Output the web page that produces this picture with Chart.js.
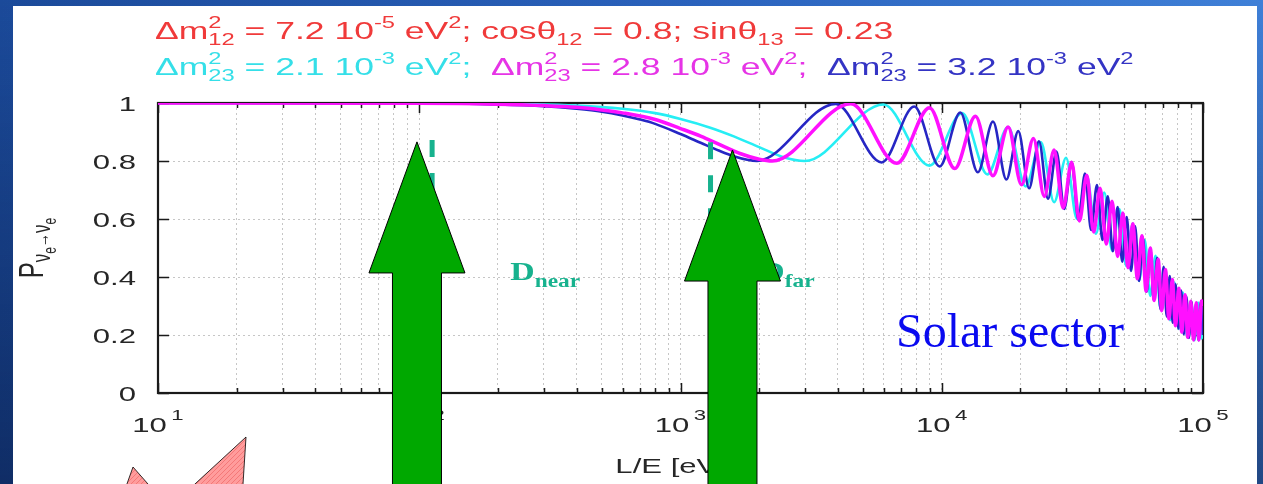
<!DOCTYPE html>
<html><head><meta charset="utf-8">
<script src="https://cdn.jsdelivr.net/npm/chart.js@4.4.1/dist/chart.umd.min.js"></script>
<style>
html,body{margin:0;padding:0;width:1263px;height:484px;overflow:hidden;}
body{background:linear-gradient(to bottom, rgba(0,0,0,0) 0%, rgba(4,16,50,0.5) 100%), linear-gradient(to right, #1b4a9a 0%, #2a62bd 55%, #3f80d8 100%);}
#panel{position:absolute;left:13px;top:6px;width:1244px;height:480px;background:#fff;}
#wrap{position:absolute;left:0;top:0;width:1263px;height:484px;}
</style></head><body>
<div id="panel"></div>
<div id="wrap"><canvas id="c"></canvas></div>
<script>
// ---- data (L/E in eV^-2, survival probability) ----
const blueX = [10,100,200,300,400,500,600,700,800,1000,1200,1400,1600,1800,1963,
  3927,5890,7854,9817,11781,13744,15708,17671,19635,21598,23562,25525,27489,29452,31416,33379,35343,37306,39270,41233,
  43197,45160,47124,49087,51051,53014,54978,56941,58905,60868,62832,64795,66759,68722,70686,72649,74613,76576,78540,80503,
  82467,84430,86394,88357,90321,92284,94248,96211,98175,100000];
const blueP = [1,0.999,0.995,0.989,0.980,0.970,0.957,0.943,0.928,0.893,0.862,0.836,0.816,0.804,0.800,
  0.997,0.795,0.988,0.781,0.967,0.761,0.936,0.736,0.903,0.706,0.868,0.670,0.833,0.635,0.796,0.596,0.757,0.562,0.717,0.528,
  0.678,0.489,0.641,0.453,0.607,0.421,0.575,0.386,0.536,0.349,0.500,0.321,0.466,0.290,0.435,0.264,0.403,0.242,0.375,0.223,
  0.353,0.203,0.333,0.190,0.315,0.183,0.311,0.182,0.316,0.200];

const magX = [10,100,200,300,400,500,600,800,1000,1200,1400,1700,2000,2244,
  4488,6732,8976,11220,13464,15708,17952,20196,22440,24684,26928,29172,31416,33660,35904,38148,40392,42636,44880,47124,
  49368,51612,53856,56100,58344,60588,62832,65076,67320,69564,71808,74052,76296,78540,80784,83028,85272,87516,89760,92004,
  94248,96492,98736,100000];
const magP = [1,0.999,0.996,0.991,0.985,0.976,0.966,0.943,0.912,0.885,0.858,0.825,0.806,0.800,
  0.997,0.792,0.984,0.774,0.954,0.749,0.917,0.718,0.878,0.678,0.838,0.638,0.796,0.593,0.751,0.555,0.706,0.514,0.661,0.471,
  0.621,0.432,0.584,0.394,0.542,0.351,0.500,0.319,0.461,0.284,0.426,0.256,0.391,0.232,0.361,0.210,0.339,0.192,0.316,0.183,
  0.311,0.183,0.318,0.300];

const cyanX = [10,100,200,400,600,800,1000,1300,1600,2000,2500,2992,
  5984,8976,11968,14960,17952,20944,23936,26928,29920,32912,35904,38896,41888,44880,47872,50864,53856,56848,59840,62832,
  65824,68816,71808,74800,77792,80784,83776,86768,89760,92752,95744,98736,100000];
const cyanP = [1,1,0.998,0.991,0.980,0.965,0.945,0.915,0.885,0.848,0.812,0.800,
  0.995,0.784,0.965,0.754,0.917,0.712,0.865,0.658,0.811,0.601,0.751,0.549,0.691,0.491,0.634,0.438,0.584,0.387,0.527,0.335,
  0.473,0.290,0.426,0.251,0.381,0.221,0.346,0.195,0.316,0.182,0.312,0.188,0.210];

// ---- axes ----
const xGridValues = [10,20,30,40,50,60,70,80,90,100,200,300,400,500,600,700,800,900,1000,2000,3000,4000,5000,6000,7000,8000,9000,
  10000,20000,30000,40000,50000,60000,70000,80000,90000,100000];
const xMajorValues = [10,100,1000,10000,100000];
const xMajorBase = ['10','10','10','10','10'];
const xMajorExp = ['1','2','3','4','5'];
const yTickValues = [0,0.2,0.4,0.6,0.8,1];
const yTickLabels = ['0','0.2','0.4','0.6','0.8','1'];

// ---- annotations (anchored on the scales) ----
const dashLines = [{x:112, top:0.872}, {x:1303, top:0.865}];
const dLabels = [{x:223, p:0.3655, sub:'near'}, {x:2020, p:0.3655, sub:'far'}];
const arrows = [{x:98, tip:0.866, base:0.414}, {x:1581, tip:0.838, base:0.386}];

const SX = 1.48;
const SANS = '"Liberation Sans", Arial, Helvetica, sans-serif';
const SERIF = '"Liberation Serif", "Times New Roman", serif';
const RED = '#f03a3a', CYAN = '#35dfe8', MAG = '#e634e6', BLUE = '#3434c4';
const TEAL = '#17b28e';
const INK = '#262626';

function fontOf(r){ return (r.b ? 'bold ' : '') + r.s + 'px ' + (r.f || SANS); }
function runsWidth(ctx, runs){
  let w = 0;
  for (const r of runs){
    ctx.font = fontOf(r);
    if (r.sup !== undefined || r.sub !== undefined){
      w += Math.max(r.sup ? ctx.measureText(r.sup).width : 0, r.sub ? ctx.measureText(r.sub).width : 0);
    } else w += ctx.measureText(r.t).width;
  }
  return w;
}
function drawRuns(ctx, runs, x0){
  let x = x0;
  for (const r of runs){
    ctx.font = fontOf(r);
    ctx.fillStyle = r.c;
    if (r.sup !== undefined || r.sub !== undefined){
      let w = 0;
      if (r.sup){ ctx.fillText(r.sup, x, r.supDy !== undefined ? r.supDy : -9); w = Math.max(w, ctx.measureText(r.sup).width); }
      if (r.sub){ ctx.fillText(r.sub, x, r.subDy !== undefined ? r.subDy : 5); w = Math.max(w, ctx.measureText(r.sub).width); }
      x += w;
    } else {
      ctx.fillText(r.t, x, r.dy || 0);
      x += ctx.measureText(r.t).width;
    }
  }
  return x;
}
function dm(c, sub, val, exp){
  return [{t:'\u0394m', s:24, c}, {sup:'2', sub:sub, s:16, c, supDy:-11, subDy:6},
          {t:' = ' + val + ' 10', s:24, c}, {sup:exp, s:16, c, supDy:-11},
          {t:' eV', s:24, c}, {sup:'2', s:16, c, supDy:-11}];
}
const title1 = [...dm(RED,'12','7.2','-5'), {t:'; cos\u03b8', s:24, c:RED}, {sub:'12', s:16, c:RED, subDy:6},
  {t:' = 0.8; sin\u03b8', s:24, c:RED}, {sub:'13', s:16, c:RED, subDy:6}, {t:' = 0.23', s:24, c:RED}];
const title2 = [...dm(CYAN,'23','2.1','-3'), {t:';  ', s:24, c:CYAN},
  ...dm(MAG,'23','2.8','-3'), {t:';  ', s:24, c:MAG}, ...dm(BLUE,'23','3.2','-3')];

const deco = {
  id: 'deco',
  beforeDatasetsDraw(chart){
    const ctx = chart.ctx, a = chart.chartArea, xs = chart.scales.x, ys = chart.scales.y;
    ctx.save();
    ctx.strokeStyle = '#1a1a1a';
    ctx.lineWidth = 1.5;
    ctx.beginPath();
    for (const v of xGridValues){
      const px = Math.round(xs.getPixelForValue(v)) + 0.5;
      const len = xMajorValues.includes(v) ? 10 : 5;
      ctx.moveTo(px, a.bottom); ctx.lineTo(px, a.bottom - len);
      ctx.moveTo(px, a.top); ctx.lineTo(px, a.top + len);
    }
    for (const v of yTickValues){
      const py = Math.round(ys.getPixelForValue(v)) + 0.5;
      ctx.moveTo(a.left, py); ctx.lineTo(a.left + 11, py);
      ctx.moveTo(a.right, py); ctx.lineTo(a.right - 11, py);
    }
    ctx.stroke();
    ctx.lineWidth = 2.2;
    ctx.strokeRect(a.left, a.top, a.right - a.left, a.bottom - a.top);
    ctx.restore();
  },
  afterDatasetsDraw(chart){
    const ctx = chart.ctx, a = chart.chartArea, xs = chart.scales.x, ys = chart.scales.y;
    ctx.save();
    ctx.textBaseline = 'alphabetic';
    ctx.textAlign = 'left';
    // titles
    ctx.save(); ctx.translate(155, 39); ctx.scale(SX, 1); drawRuns(ctx, title1, 0); ctx.restore();
    ctx.save(); ctx.translate(155, 75); ctx.scale(SX, 1); drawRuns(ctx, title2, 0); ctx.restore();
    // y tick labels
    ctx.fillStyle = INK;
    ctx.font = '21px ' + SANS;
    yTickValues.forEach((v, i) => {
      const py = ys.getPixelForValue(v);
      ctx.save(); ctx.translate(136, py + 7.5); ctx.scale(SX, 1);
      ctx.textAlign = 'right'; ctx.fillText(yTickLabels[i], 0, 0); ctx.restore();
    });
    // x tick labels
    xMajorValues.forEach((v, i) => {
      const px = xs.getPixelForValue(v);
      const runs = [{t:xMajorBase[i], s:21, c:INK}, {t:'\u2009', s:15, c:INK}, {sup:xMajorExp[i], s:15, c:INK, supDy:-12}];
      const w = runsWidth(ctx, runs) * SX;
      ctx.save(); ctx.translate(px - w / 2, 432); ctx.scale(SX, 1); drawRuns(ctx, runs, 0); ctx.restore();
    });
    // axis titles
    const xt = [{t:'L/E [eV', s:21, c:INK}, {sup:'-2', s:15, c:INK, supDy:-10}, {t:']', s:21, c:INK}];
    const xw = runsWidth(ctx, xt) * SX;
    ctx.save(); ctx.translate((a.left + a.right) / 2 - xw / 2, 473); ctx.scale(SX, 1); drawRuns(ctx, xt, 0); ctx.restore();
    const yt = [{t:'P', s:24, c:INK}, {t:'\u03bd', s:17, c:INK, dy:5}, {t:'e', s:12, c:INK, dy:9},
      {t:'\u2192', s:14, c:INK, dy:4}, {t:'\u03bd', s:17, c:INK, dy:5}, {t:'e', s:12, c:INK, dy:9}];
    const yw = runsWidth(ctx, yt);
    ctx.save(); ctx.translate(43, 248); ctx.scale(SX, 1); ctx.rotate(-Math.PI / 2); drawRuns(ctx, yt, -yw / 2); ctx.restore();
    // dashed detector lines
    ctx.strokeStyle = TEAL; ctx.lineWidth = 5; ctx.setLineDash([17, 16]);
    for (const d of dashLines){
      const px = xs.getPixelForValue(d.x);
      ctx.beginPath(); ctx.moveTo(px, ys.getPixelForValue(d.top)); ctx.lineTo(px, a.bottom); ctx.stroke();
    }
    ctx.setLineDash([]);
    // D labels
    for (const d of dLabels){
      const runs = [{t:'D', s:26, b:true, f:SERIF, c:TEAL}, {t:d.sub, s:18, b:true, f:SERIF, c:TEAL, dy:7}];
      ctx.save(); ctx.translate(xs.getPixelForValue(d.x), ys.getPixelForValue(d.p) - 7); ctx.scale(1.3, 1); drawRuns(ctx, runs, 0); ctx.restore();
    }
    // Solar sector
    ctx.fillStyle = '#0a0af0';
    ctx.font = '48px ' + SERIF;
    ctx.fillText('Solar sector', 896, 347);
    ctx.restore();
  },
  afterDraw(chart){
    const ctx = chart.ctx, xs = chart.scales.x, ys = chart.scales.y;
    ctx.save();
    // green arrows
    for (const ar of arrows){
      const cx = xs.getPixelForValue(ar.x), ty = ys.getPixelForValue(ar.tip), hy = ys.getPixelForValue(ar.base);
      ctx.beginPath();
      ctx.moveTo(cx, ty);
      ctx.lineTo(cx + 48, hy); ctx.lineTo(cx + 24.5, hy); ctx.lineTo(cx + 24.5, 500);
      ctx.lineTo(cx - 24.5, 500); ctx.lineTo(cx - 24.5, hy); ctx.lineTo(cx - 48, hy);
      ctx.closePath();
      ctx.fillStyle = '#00a800'; ctx.fill();
      ctx.strokeStyle = '#000'; ctx.lineWidth = 1; ctx.stroke();
    }
    // red star (decorative shape)
    const pc = document.createElement('canvas'); pc.width = 5; pc.height = 5;
    const pctx = pc.getContext('2d');
    pctx.fillStyle = '#ff9c9c'; pctx.fillRect(0, 0, 5, 5);
    pctx.strokeStyle = '#f47878'; pctx.lineWidth = 1;
    pctx.beginPath(); pctx.moveTo(0, 5); pctx.lineTo(5, 0); pctx.stroke();
    ctx.beginPath();
    ctx.moveTo(123, 495); ctx.lineTo(133, 467); ctx.lineTo(157.7, 495); ctx.lineTo(183, 495);
    ctx.lineTo(246, 437); ctx.lineTo(242.3, 495); ctx.closePath();
    ctx.fillStyle = ctx.createPattern(pc, 'repeat'); ctx.fill();
    ctx.strokeStyle = '#000'; ctx.lineWidth = 0.8; ctx.stroke();
    ctx.restore();
  }
};

function pts(xs, ps){ return xs.map((x, i) => ({x: x, y: ps[i]})); }
const gridCfg = {color: '#c6c6c6', lineWidth: 1, drawTicks: false};
const borderCfg = {display: false, dash: [2, 3]};

new Chart(document.getElementById('c'), {
  type: 'line',
  data: {datasets: [
    {label: '\u0394m\u00b2\u2082\u2083 = 2.8 10\u207b\u00b3 eV\u00b2', data: pts(magX, magP), borderColor: '#ff10ff', borderWidth: 3.5, order: 0},
    {label: '\u0394m\u00b2\u2082\u2083 = 3.2 10\u207b\u00b3 eV\u00b2', data: pts(blueX, blueP), borderColor: '#2626c4', borderWidth: 2.6, order: 1},
    {label: '\u0394m\u00b2\u2082\u2083 = 2.1 10\u207b\u00b3 eV\u00b2', data: pts(cyanX, cyanP), borderColor: '#26eef4', borderWidth: 2.6, order: 2}
  ]},
  options: {
    responsive: true, maintainAspectRatio: false, animation: false,
    layout: {padding: {left: 0, right: 60, top: 103, bottom: 0}},
    plugins: {legend: {display: false}, tooltip: {enabled: false}, title: {display: false}},
    elements: {point: {radius: 0}, line: {cubicInterpolationMode: 'monotone', fill: false}},
    scales: {
      x: {type: 'logarithmic', min: 10, max: 100000,
          afterBuildTicks: s => { s.ticks = xGridValues.map(v => ({value: v})); },
          afterFit: s => { s.height = 91; },
          ticks: {display: false}, grid: gridCfg, border: borderCfg},
      y: {type: 'linear', min: 0, max: 1,
          afterBuildTicks: s => { s.ticks = yTickValues.map(v => ({value: v})); },
          afterFit: s => { s.width = 158; },
          ticks: {display: false}, grid: gridCfg, border: borderCfg}
    }
  },
  plugins: [deco]
});
</script>
</body></html>
